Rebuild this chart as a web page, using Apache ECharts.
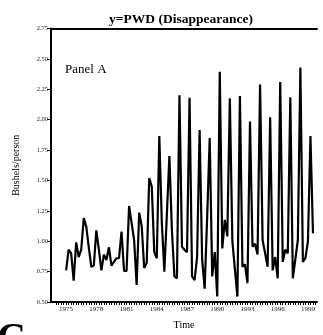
<!DOCTYPE html>
<html>
<head>
<meta charset="utf-8">
<script src="https://cdn.jsdelivr.net/npm/echarts@6/dist/echarts.min.js"></script>
<style>
html,body{margin:0;padding:0;background:#fff;}
#chart{width:323px;height:335px;}
</style>
</head>
<body>
<div id="chart"></div>
<script>
// Quarterly per-capita disappearance (bushels/person), 1975Q1 onward
const startYear = 1975;
const pwd = [
  0.76, 0.93, 0.90, 0.675,
  0.99, 0.87, 0.93, 1.19,
  1.12, 0.95, 0.79, 0.80,
  1.09, 0.93, 0.76, 0.89,
  0.845, 0.95, 0.80, 0.83,
  0.86, 0.86, 1.08, 0.755,
  0.755, 1.29, 1.15, 1.01,
  0.64, 1.235, 1.125, 0.78,
  0.82, 1.52, 1.45, 0.91,
  0.86, 1.865, 1.15, 0.75,
  1.22, 1.70, 1.09, 0.71,
  0.695, 2.20, 0.955, 0.93,
  0.91, 2.18, 0.71, 0.68,
  0.87, 1.915, 0.85, 0.61,
  1.20, 1.85, 0.71, 0.91,
  0.545, 2.395, 0.94, 1.175,
  1.04, 2.175, 1.00, 0.77,
  0.545, 2.195, 0.79, 0.81,
  0.655, 1.985, 0.955, 0.98,
  0.89, 2.29, 1.01, 0.90,
  0.79, 2.02, 0.76, 0.87,
  0.695, 2.31, 0.83, 0.93,
  0.90, 2.185, 0.695, 0.85,
  1.01, 2.43, 0.83, 0.86,
  1.00, 1.865, 1.065
];
const periods = pwd.map((_, i) => (startYear + Math.floor(i / 4)) + 'Q' + (i % 4 + 1));
const xTickLabels = [1975, 1978, 1981, 1984, 1987, 1990, 1993, 1996, 1999];
const yTicks = [0.50, 0.75, 1.00, 1.25, 1.50, 1.75, 2.00, 2.25, 2.50, 2.75];

const periodToTime = p => { const [y, q] = p.split('Q'); return +y + (+q - 1) / 4; };
const seriesData = periods.map((p, i) => [periodToTime(p), pwd[i]]);
const quarterTicks = [];
for (let t = 1974; t <= 1999.75; t += 0.25) quarterTicks.push(t);

const serif = 'Liberation Serif';
const chart = echarts.init(document.getElementById('chart'), null, {renderer: 'canvas'});
chart.setOption({
  animation: false,
  backgroundColor: '#ffffff',
  title: {
    text: 'y=PWD (Disappearance)',
    left: 176, top: 8, textAlign: 'center',
    textStyle: {fontFamily: serif, fontWeight: 'bold', fontSize: 13.5, color: '#000'}
  },
  grid: {left: 51, right: 6, top: 28.5, bottom: 33},
  xAxis: [{
    type: 'value', min: 1973.5, max: 1999.9,
    name: 'Time', nameLocation: 'middle', nameGap: 18,
    nameTextStyle: {fontFamily: serif, fontSize: 10, color: '#000'},
    axisLine: {show: true, onZero: false, lineStyle: {color: '#000', width: 2}},
    axisTick: {show: true, customValues: quarterTicks, length: 3, lineStyle: {color: '#000', width: 1}},
    axisLabel: {customValues: xTickLabels, fontFamily: serif, fontSize: 7, color: '#222', margin: 4, formatter: v => String(Math.round(v))},
    splitLine: {show: false}
  }, {
    type: 'value', min: 1973.5, max: 1999.9, position: 'top',
    axisLine: {show: true, onZero: false, lineStyle: {color: '#000', width: 2}},
    axisTick: {show: false}, axisLabel: {show: false}, splitLine: {show: false}
  }],
  yAxis: {
    type: 'value', min: 0.5, max: 2.75, interval: 0.25,
    name: 'Bushels/person', nameLocation: 'middle', nameGap: 30, nameRotate: 90,
    nameTextStyle: {fontFamily: serif, fontSize: 10, color: '#000'},
    axisLine: {show: true, onZero: false, lineStyle: {color: '#000', width: 2}},
    axisTick: {show: true, length: 4, lineStyle: {color: '#000', width: 1}},
    axisLabel: {customValues: yTicks, fontFamily: serif, fontSize: 6.5, color: '#222', margin: 3, formatter: v => v.toFixed(2)},
    splitLine: {show: false}
  },
  graphic: [
    {type: 'text', left: 65, top: 63, style: {text: 'Panel A', font: '13px "Liberation Serif"', fill: '#000'}},
    {type: 'text', left: -3, top: 320, style: {text: 'C', font: 'bold 40px "Liberation Serif"', fill: '#000'}}
  ],
  series: [{
    type: 'line', xAxisIndex: 0, data: seriesData, symbol: 'none',
    lineStyle: {color: '#000', width: 2.2}, itemStyle: {color: '#000'}
  }]
});
</script>
</body>
</html>
